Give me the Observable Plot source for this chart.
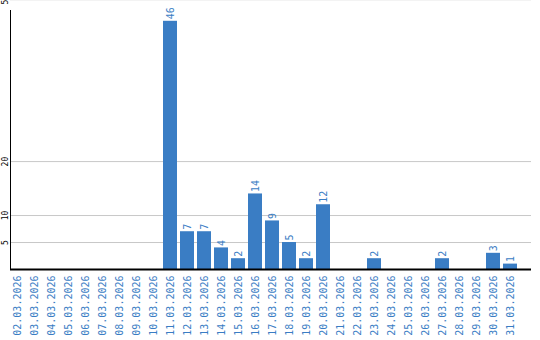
<!DOCTYPE html>
<html>
<head>
<meta charset="utf-8">
<script src="https://cdn.jsdelivr.net/npm/d3@7"></script>
<script src="https://cdn.jsdelivr.net/npm/@observablehq/plot@0.6"></script>
<style>
  html, body { margin: 0; padding: 0; background: #fff; }
</style>
</head>
<body>
<div id="chart"></div>
<script>
const dates = [
  "02.03.2026","03.03.2026","04.03.2026","05.03.2026","06.03.2026","07.03.2026",
  "08.03.2026","09.03.2026","10.03.2026","11.03.2026","12.03.2026","13.03.2026",
  "14.03.2026","15.03.2026","16.03.2026","17.03.2026","18.03.2026","19.03.2026",
  "20.03.2026","21.03.2026","22.03.2026","23.03.2026","24.03.2026","25.03.2026",
  "26.03.2026","27.03.2026","28.03.2026","29.03.2026","30.03.2026","31.03.2026"
];
const counts = [0,0,0,0,0,0,0,0,0,46,7,7,4,2,14,9,5,2,12,0,0,2,0,0,0,2,0,0,3,1];
const yTicks = [5, 10, 20, 50];

const data = dates.map((d, i) => ({date: d, count: counts[i]}));
const nonZero = data.filter(d => d.count > 0);
const blue = "#3a7dc4";

const chart = Plot.plot({
  width: 540,
  height: 340,
  marginLeft: 10,
  marginRight: 9,
  marginTop: 10,
  marginBottom: 71,
  style: {fontFamily: "'DejaVu Sans Mono', monospace", background: "#fff", overflow: "visible"},
  x: {domain: dates, range: [10, 517], paddingInner: 3 / 17, paddingOuter: 0, axis: null, label: null},
  y: {domain: [0, 48], range: [269, 10], axis: null, label: null},
  marks: [
    Plot.gridY(yTicks, {stroke: "#c8c8c8", strokeOpacity: 1}),
    Plot.barY(nonZero, {x: "date", y: "count", fill: blue}),
    Plot.text(nonZero, {x: "date", y: "count", text: d => String(d.count), rotate: -90,
      textAnchor: "start", dy: -2, fill: blue, fontSize: 10}),
    Plot.axisX({domain: dates, tickSize: 0, tickRotate: -90, tickPadding: 6, fill: blue, fontSize: 10, color: blue, label: null}),
    Plot.axisY({ticks: yTicks, tickSize: 0, tickRotate: -90, tickPadding: 3, fontSize: 8, fill: "#000", label: null}),
    Plot.frame({anchor: "left", stroke: "#000"}),
    Plot.ruleY([0], {stroke: "#000", strokeWidth: 2})
  ]
});
document.getElementById("chart").appendChild(chart);
</script>
</body>
</html>
